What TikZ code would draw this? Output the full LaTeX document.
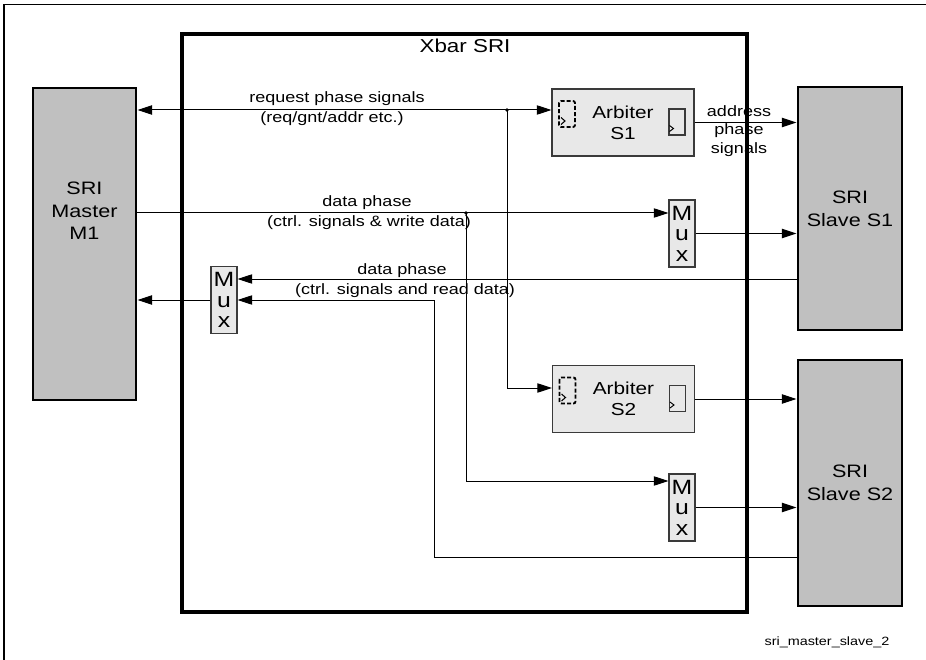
\documentclass[tikz,border=0pt]{standalone}
\usepackage{fontspec}
\setmainfont{Liberation Sans}[FakeStretch=1.2]
\usetikzlibrary{arrows.meta}
\definecolor{slavegray}{HTML}{C0C0C0}
\definecolor{boxlight}{HTML}{E8E8E8}
\definecolor{edgegray}{HTML}{3A3A3A}
\begin{document}
\begin{tikzpicture}[x=0.75pt,y=-0.75pt,
  bigbox/.style={draw=black, line width=2.2pt, fill=slavegray, inner sep=0pt},
  bigtext/.style={align=center, font=\fontsize{13.5}{17}\selectfont, inner sep=0pt},
  xbarbox/.style={draw=black, line width=2.4pt, inner sep=0pt},
  arbbox/.style={draw=edgegray, line width=0.8pt, fill=boxlight, align=center,
    font=\fontsize{13}{15.75}\selectfont, inner sep=0pt,
    minimum width=106.5pt, minimum height=50.25pt},
  muxbox/.style={draw=edgegray, line width=0.8pt, fill=boxlight, align=center,
    font=\fontsize{15.5}{15.4}\selectfont, inner sep=0pt,
    minimum width=19.5pt, minimum height=50.25pt},
  lbl/.style={font=\fontsize{11.25}{14}\selectfont, inner sep=0pt, align=center},
  sig/.style={line width=0.75pt, -{Triangle[length=11pt,width=7pt]}},
  bisig/.style={line width=0.75pt, {Triangle[length=11pt,width=7pt]}-{Triangle[length=11pt,width=7pt]}},
  dot/.style={fill=black}
]
\useasboundingbox (0,0) rectangle (926,660);
% outer frame (top and left)
\draw[line width=1.1pt] (4,660) -- (4,4.5) -- (926,4.5);

% master and slaves
\node[bigbox, minimum width=77.25pt, minimum height=234pt] (master) at (84.5,244) {};
\node[bigtext] (mastertxt) at (84.5,211) {SRI\\Master\\M1};
\node[bigbox, bigtext, draw=black, fill=slavegray, minimum width=78pt, minimum height=182.25pt] (slave1) at (850,208.5) {SRI\\Slave S1};
\node[bigbox, bigtext, draw=black, fill=slavegray, minimum width=78pt, minimum height=184.5pt] (slave2) at (850,483) {SRI\\Slave S2};

% arbiters
\node[arbbox] (arb1) at (623,122.5) {Arbiter\\S1};
\node[arbbox] (arb2) at (623.5,399) {Arbiter\\S2};
\foreach \a in {arb1,arb2}{
  \begin{scope}[shift={(\a.center)}]
    \draw[line width=1.4pt, dash pattern=on 3pt off 1.6pt, rounded corners=1.5pt] (-64,-21.5) rectangle (-48,4.5);
    \draw[line width=0.8pt] (-62,-5) -- (-58,-1.5) -- (-62,2);
    \draw[line width=0.8pt, draw=edgegray] (46,-13.5) rectangle (62,12.5);
    \draw[line width=0.7pt] (46.5,3) -- (50.5,6) -- (46.5,9);
  \end{scope}
}

% muxes
\node[muxbox] (mux1) at (682,233.5) {M\\u\\x};
\node[muxbox] (mux2) at (682,507.5) {M\\u\\x};
\node[muxbox] (muxr) at (224,300) {M\\u\\x};

% helper coordinates
\coordinate (yreq) at (0,110);
\coordinate (j1) at (507,110);
\coordinate (yarb2) at (0,388);
\coordinate (ywr) at (0,213);
\coordinate (j2) at (466,213);
\coordinate (ywr2) at (0,481);
\coordinate (yrd1) at (0,279);
\coordinate (bend) at (434,557);

% request phase
\draw[bisig] (master.east |- yreq) -- (arb1.west |- yreq);
\draw[sig] (j1) |- (arb2.west |- yarb2);
\fill[dot] (j1) circle (1.4pt);
% write data phase
\draw[sig] (master.east |- ywr) -- (mux1.west |- ywr);
\draw[sig] (j2) |- (mux2.west |- ywr2);
\fill[dot] (j2) circle (1.4pt);
% outputs to slaves
\draw[sig] (arb1.east) -- (arb1.east -| slave1.west);
\draw[sig] (mux1.east) -- (mux1.east -| slave1.west);
\draw[sig] (arb2.east) -- (arb2.east -| slave2.west);
\draw[sig] (mux2.east) -- (mux2.east -| slave2.west);
% read data
\draw[sig] (slave1.west |- yrd1) -- (muxr.east |- yrd1);
\draw[sig] (slave2.west |- bend) -- (bend) |- (muxr.east);
\draw[sig] (muxr.west) -- (muxr.west -| master.east);

% labels
\node[lbl] (lreq1) at (337,99) {request phase signals};
\node[lbl] (lreq2) at (332,119) {(req/gnt/addr etc.)};
\node[lbl] (lwr1) at (367,203) {data phase};
\node[lbl] (lwr2) at (369,223) {(ctrl. signals \& write data)};
\node[lbl] (lrd1) at (402,271) {data phase};
\node[lbl] (lrd2) at (405,291) {(ctrl. signals and read data)};
\node[lbl] (laddr) at (739,131) {address\\phase\\signals};

% crossbar box
\node[xbarbox, minimum width=423.75pt, minimum height=433.5pt] (xbar) at (464.5,323) {};
\node[font=\fontsize{14}{16}\selectfont, inner sep=0pt] (xbartitle) at (465,46) {Xbar SRI};

\node[font=\fontsize{9}{11}\selectfont, inner sep=0pt] (foot) at (827,642) {sri\_master\_slave\_2};
\end{tikzpicture}
\end{document}
